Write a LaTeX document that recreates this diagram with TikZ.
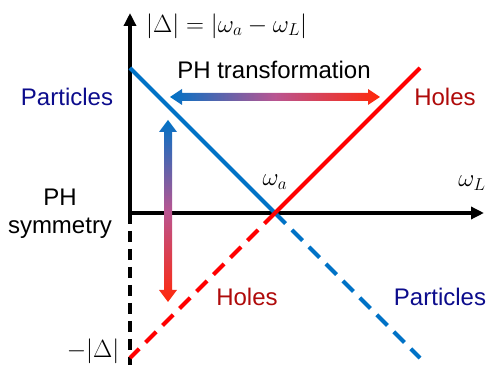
\documentclass[tikz,border=0pt]{standalone}
\usepackage{fontspec}
\setmainfont{Liberation Sans}
\usetikzlibrary{arrows.meta,calc}

\definecolor{lineblue}{RGB}{0,114,198}
\definecolor{linered}{RGB}{255,0,0}
\definecolor{partblue}{RGB}{12,12,140}
\definecolor{holered}{RGB}{175,10,10}
\definecolor{arrowred}{RGB}{255,40,10}
\definecolor{arrowmid}{RGB}{185,85,145}

\begin{document}
\begin{tikzpicture}[
    x=1pt, y=1pt,
    axisline/.style={black, line width=4pt},
    axisdash/.style={black, line width=4pt, dash pattern=on 11pt off 7pt},
    bandline/.style={line width=4pt},
    banddash/.style={line width=4pt, dash pattern=on 15pt off 9pt},
    axistip/.style={-{Triangle[length=13pt, width=12pt]}},
    txtlabel/.style={font=\fontsize{24}{28}\selectfont, inner sep=0pt},
    mathlabel/.style={font=\fontsize{25}{29}\selectfont, inner sep=0pt},
]

\def\hl{12}   % head length
\def\hw{8}    % head half width
\def\sw{4}    % shaft half width

\useasboundingbox (0,0) rectangle (490,366);

% ── Axes ────────────────────────────────────────────────────
\coordinate (O)    at (130,153);
\coordinate (ytop) at (130,353);
\coordinate (ybot) at (130,1);
\coordinate (xend) at (484,153);

\draw[axisdash] (O) -- (ybot);
\draw[axisline, axistip] (O) -- (ytop);
\draw[axisline, axistip] (O) -- (xend);

% ── Particle and hole lines ─────────────────────────────────
\coordinate (wa)    at (275,153);
\coordinate (pstart) at (130,298);
\coordinate (pend)   at (420,8);
\coordinate (hstart) at (420,298);
\coordinate (hend)   at (130,8);

\draw[bandline, lineblue] (pstart) -- (wa);
\draw[banddash, lineblue] (wa) -- (pend);
\draw[banddash, linered] (wa) -- (hend);
\draw[bandline, linered] (wa) -- (hstart);

% ── PH arrows ───────────────────────────────────────────────
% Horizontal: PH transformation
\coordinate (tl) at (170,269);
\coordinate (tr) at (380,269);
\shade[left color=lineblue, right color=arrowred, middle color=arrowmid]
    (tl) -- ++(\hl,\hw) -- ++(0,-\hw+\sw) -- ($(tr)+(-\hl,\sw)$)
    -- ++(0,\hw-\sw) -- (tr) -- ++(-\hl,-\hw) -- ++(0,\hw-\sw)
    -- ($(tl)+(\hl,-\sw)$) -- ++(0,-\hw+\sw) -- cycle;

% Vertical: PH symmetry
\coordinate (st) at (168,246);
\coordinate (sb) at (168,64);
\shade[top color=lineblue, bottom color=arrowred, middle color=arrowmid]
    (st) -- ++(\hw+1,-\hl) -- ++(-\hw-1+\sw,0) -- ($(sb)+(\sw,\hl)$)
    -- ++(\hw+1-\sw,0) -- (sb) -- ++(-\hw-1,\hl) -- ++(\hw+1-\sw,0)
    -- ($(st)+(-\sw,-\hl)$) -- ++(-\hw-1+\sw,0) -- cycle;

% ── Labels ──────────────────────────────────────────────────
\node[mathlabel, anchor=west] (ylab) at (146,340) {$|\Delta| = |\omega_a - \omega_L|$};
\node[mathlabel] (walab) at (275,184) {$\omega_a$};
\node[mathlabel] (wllab) at (472,183) {$\omega_L$};
\node[mathlabel] (mlab) at (93,15) {$-|\Delta|$};

\node[txtlabel] (phtrans) at (274,296) {PH transformation};
\node[txtlabel, align=center] (phsym) at (60,152) {PH\\symmetry};

\node[txtlabel, partblue] (parttop) at (67,269) {Particles};
\node[txtlabel, holered]  (holetop) at (445,269) {Holes};
\node[txtlabel, holered]  (holebot) at (247,69) {Holes};
\node[txtlabel, partblue] (partbot) at (440,69) {Particles};

\end{tikzpicture}
\end{document}
